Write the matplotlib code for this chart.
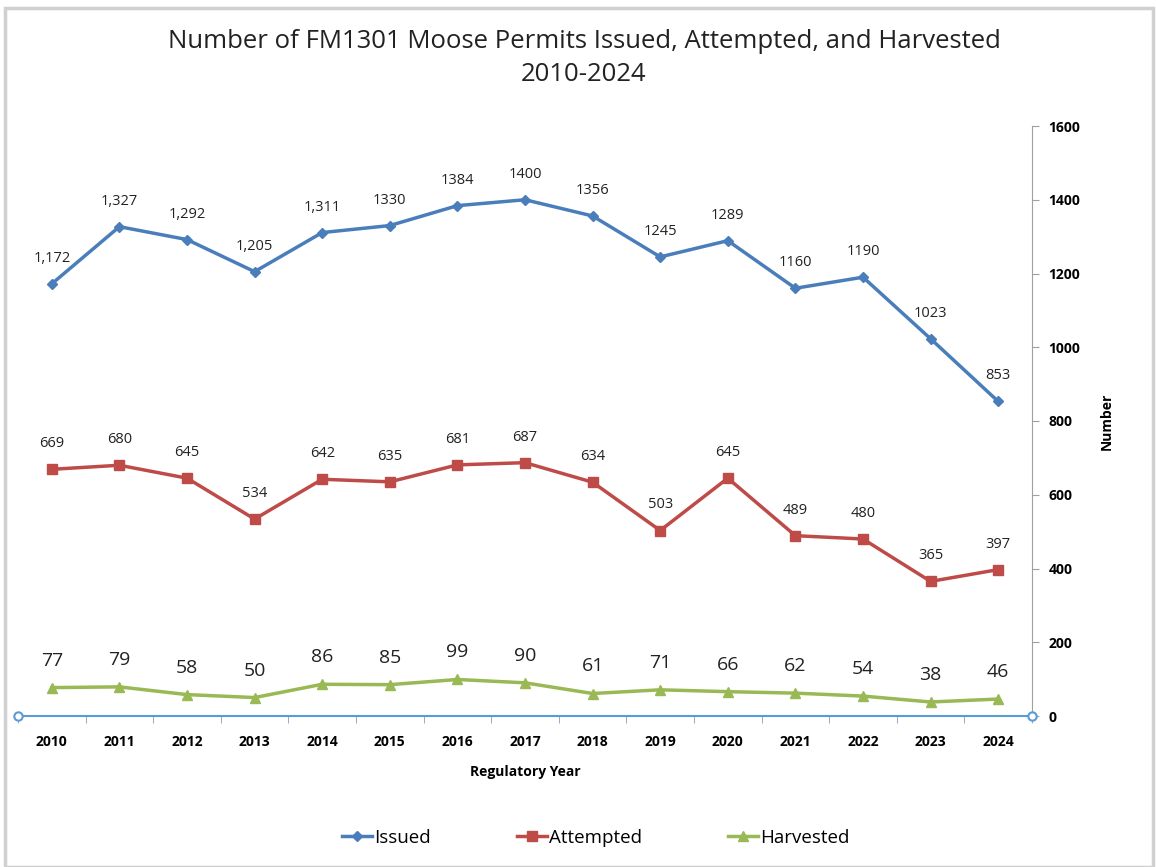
import matplotlib
matplotlib.use("Agg")
import matplotlib.pyplot as plt
from matplotlib.patches import Rectangle
from matplotlib.lines import Line2D

years = ["2010", "2011", "2012", "2013", "2014", "2015", "2016", "2017",
         "2018", "2019", "2020", "2021", "2022", "2023", "2024"]
issued = [1172, 1327, 1292, 1205, 1311, 1330, 1384, 1400, 1356, 1245, 1289, 1160, 1190, 1023, 853]
issued_labels = ["1,172", "1,327", "1,292", "1,205", "1,311", "1330", "1384", "1400",
                 "1356", "1245", "1289", "1160", "1190", "1023", "853"]
attempted = [669, 680, 645, 534, 642, 635, 681, 687, 634, 503, 645, 489, 480, 365, 397]
harvested = [77, 79, 58, 50, 86, 85, 99, 90, 61, 71, 66, 62, 54, 38, 46]

c_iss = "#4A7EBB"
c_att = "#BE4B48"
c_har = "#98B954"

plt.rcParams['font.family'] = ['Open Sans', 'DejaVu Sans']

fig = plt.figure(figsize=(11.56, 8.67), dpi=100)
fig.patches.append(Rectangle((5/1156, 0), 1 - 8/1156, 1 - 8/867, transform=fig.transFigure,
                             fill=False, edgecolor="#D0D0D0", linewidth=2.5))

ax = fig.add_axes([18/1156, 1 - 716/867, (1032 - 18)/1156, (716 - 126)/867])
x = list(range(len(years)))

ax.plot(x, issued, color=c_iss, lw=2.5, marker="D", ms=5, label="Issued")
ax.plot(x, attempted, color=c_att, lw=2.5, marker="s", ms=7, label="Attempted")
ax.plot(x, harvested, color=c_har, lw=2.5, marker="^", ms=7, label="Harvested")

for xi, v, lab in zip(x, issued, issued_labels):
    ax.annotate(lab, (xi, v), xytext=(0, 13), textcoords="offset points",
                ha="center", va="bottom", fontsize=10.5, color="#222222")
for xi, v in zip(x, attempted):
    ax.annotate(str(v), (xi, v), xytext=(0, 13), textcoords="offset points",
                ha="center", va="bottom", fontsize=10.5, color="#222222")
for xi, v in zip(x, harvested):
    ax.annotate(str(v), (xi, v), xytext=(0, 13), textcoords="offset points",
                ha="center", va="bottom", fontsize=14, color="#222222")

ax.set_xlim(-0.5, len(years) - 0.5)
ax.set_ylim(0, 1600)
ax.set_yticks(range(0, 1601, 200))
ax.yaxis.tick_right()
ax.yaxis.set_label_position("right")
ax.set_ylabel("Number", fontsize=10, fontweight="bold", labelpad=14)
ax.set_xlabel("Regulatory Year", fontsize=10, fontweight="bold", labelpad=11)

ax.set_xticks(x)
ax.set_xticklabels(years, fontsize=10, fontweight="bold")
for lab in ax.get_yticklabels():
    lab.set_fontweight("bold")
    lab.set_fontsize(10)
ax.tick_params(axis="x", length=0, pad=14)
ax.set_xticks([i + 0.5 for i in range(-1, len(years))], minor=True)
ax.tick_params(axis="x", which="minor", length=5, color="#7F9FC8", direction="out")
ax.tick_params(axis="y", length=5, color="#A0A0A0", pad=7)

for s in ["top", "left"]:
    ax.spines[s].set_visible(False)
ax.spines["right"].set_color("#A0A0A0")
ax.spines["bottom"].set_color("#5B9BD5")
ax.spines["bottom"].set_linewidth(1.5)
ax.plot([-0.5, len(years) - 0.5], [0, 0], ls="none", marker="o", ms=6, mfc="white",
        mec="#5B9BD5", mew=1.5, clip_on=False, zorder=5)

fig.text(584/1156, 1 - 58/867, "Number of FM1301 Moose Permits Issued, Attempted, and Harvested\n2010-2024",
         ha="center", va="center", fontsize=18.5, color="#222222", linespacing=1.4)

handles = [Line2D([], [], color=c_iss, lw=2.5, marker="D", ms=5),
           Line2D([], [], color=c_att, lw=2.5, marker="s", ms=7),
           Line2D([], [], color=c_har, lw=2.5, marker="^", ms=7)]
fig.legend(handles, ["Issued", "Attempted", "Harvested"], loc="center",
           bbox_to_anchor=(596/1156, 1 - 838/867), ncol=3, frameon=False,
           fontsize=13.5, handlelength=1.6, handletextpad=0.1, columnspacing=4.6)

fig.savefig("out.png", dpi=100)
